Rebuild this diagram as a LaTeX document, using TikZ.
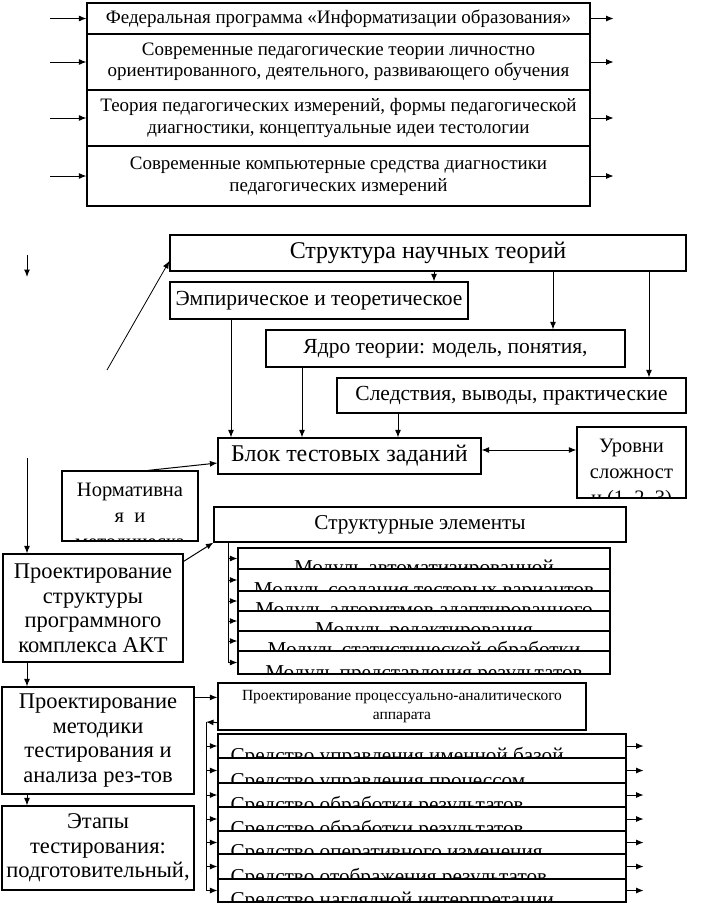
\documentclass[tikz,border=0pt]{standalone}
\usepackage{fontspec}
\setmainfont{Liberation Serif}
\usetikzlibrary{arrows.meta}
\newcommand\ftop{\fontsize{19}{21.5}\selectfont}
\newcommand\fbig{\fontsize{24}{26}\selectfont}
\newcommand\fmid{\fontsize{21.5}{23}\selectfont}
\newcommand\fblok{\fontsize{24}{25}\selectfont}
\newcommand\fcut{\fontsize{20.5}{26}\selectfont}
\newcommand\fmod{\fontsize{21.2}{24}\selectfont}
\newcommand\fside{\fontsize{22.5}{24.5}\selectfont}
\newcommand\fsmall{\fontsize{15.5}{19}\selectfont}
\tikzset{
	box/.style={draw, fill=white, line width=1.2pt, inner sep=2pt, align=center},
	arr/.style={-{Latex[length=7.5pt,width=6pt]}, line width=1pt},
	arrs/.style={{Latex[length=7.5pt,width=6pt]}-{Latex[length=7.5pt,width=6pt]}, line width=1pt},
	topcut/.style={path picture={\node[anchor=north, inner sep=0pt, minimum width=0pt, minimum height=0pt, align=center, font=\fcut] at ([yshift=-11pt]path picture bounding box.north) {#1};}},
	modcut/.style={path picture={\node[anchor=base, inner sep=0pt, minimum width=0pt, minimum height=0pt, font=\fmod] at ([yshift=-5.5pt]path picture bounding box.south) {#1};}},
	sredcut/.style={path picture={\node[anchor=base west, inner sep=0pt, minimum width=0pt, minimum height=0pt, font=\fmod] at ([xshift=12pt,yshift=-4pt]path picture bounding box.south west) {#1};}}
}
\begin{document}
\begin{tikzpicture}[x=1pt,y=-1pt]
		\useasboundingbox (0,0) rectangle (711,906);
		\node [box, font=\ftop, minimum width=503, minimum height=31] (fed) at (338.5,18.5) {Федеральная программа «Информатизации образования»};
		\node [box, font=\ftop, minimum width=503, minimum height=56] (sovr) at (338.5,62) {Современные педагогические теории личностно\\ориентированного, деятельного, развивающего обучения};
		\node [box, font=\ftop, minimum width=503, minimum height=56] (teor) at (338.5,118) {Теория педагогических измерений, формы педагогической\\диагностики, концептуальные идеи тестологии};
		\node [box, font=\ftop, minimum width=503, minimum height=60] (komp) at (338.5,176) {Современные компьютерные средства диагностики\\педагогических измерений};
		\draw [arr] ([xshift=-36pt]fed.west) -- (fed.west);
		\draw [arr] ([xshift=-36pt]sovr.west) -- (sovr.west);
		\draw [arr] ([xshift=-36pt]teor.west) -- (teor.west);
		\draw [arr] ([xshift=-36pt]komp.west) -- (komp.west);
		\draw [arr] (fed.east) -- ([xshift=23pt]fed.east);
		\draw [arr] (sovr.east) -- ([xshift=23pt]sovr.east);
		\draw [arr] (teor.east) -- ([xshift=23pt]teor.east);
		\draw [arr] (komp.east) -- ([xshift=23pt]komp.east);
		% theory structure
		\node [box, font=\fbig, minimum width=516, minimum height=36] (strukt) at (428,253) {Структура научных теорий};
		\node [box, font=\fmid, minimum width=298, minimum height=37] (emp) at (319,300.5) {Эмпирическое и теоретическое};
		\node [box, font=\fmid, minimum width=359, minimum height=37] (yadro) at (445.5,348.5) {Ядро теории: модель, понятия,};
		\node [box, font=\fmid, minimum width=349, minimum height=35] (sled) at (511.5,395.5) {Следствия, выводы, практические};
		\node [box, font=\fblok, minimum width=263, minimum height=36] (blok) at (349.5,456) {Блок тестовых заданий};
		\node [box, minimum width=109, minimum height=71, topcut={Уровни\\сложност\\и (1, 2, 3)}] (urov) at (631.5,462.5) {};
		\node [box, minimum width=136, minimum height=70, topcut={Нормативна\\я \ и\\методическа}] (norm) at (130,506) {};
		\node [box, font=\fmod, minimum width=412, minimum height=35] (selem) at (420,524.5) {Структурные элементы};
		\node [box, minimum width=372, minimum height=21, modcut={Модуль автоматизированной}] (m1) at (424,558.5) {};
		\node [box, minimum width=372, minimum height=22, modcut={Модуль создания тестовых вариантов}] (m2) at (424,580) {};
		\node [box, minimum width=372, minimum height=20, modcut={Модуль алгоритмов адаптированного}] (m3) at (424,601) {};
		\node [box, minimum width=372, minimum height=20, modcut={Модуль редактирования}] (m4) at (424,621) {};
		\node [box, minimum width=372, minimum height=20, modcut={Модуль статистической обработки}] (m5) at (424,641) {};
		\node [box, minimum width=372, minimum height=23, modcut={Модуль представления результатов}] (m6) at (424,662.5) {};
		% left column
		\node [box, font=\fside, minimum width=180, minimum height=108] (ps) at (93,608) {Проектирование\\структуры\\программного\\комплекса АКТ};
		\node [box, font=\fside, minimum width=192, minimum height=107] (pm) at (98,740.5) {Проектирование\\методики\\тестирования и\\анализа рез-тов};
		\node [box, font=\fside, minimum width=192, minimum height=84] (etap) at (98,848) {Этапы\\тестирования:\\подготовительный,};
		\node [box, font=\fsmall, minimum width=368, minimum height=47] (ppa) at (402,706.5) {Проектирование процессуально-аналитического\\аппарата};
		\node [box, minimum width=408, minimum height=24, sredcut={Средство управления именной базой}] (s1) at (422,746) {};
		\node [box, minimum width=408, minimum height=25, sredcut={Средство управления процессом}] (s2) at (422,770.5) {};
		\node [box, minimum width=408, minimum height=24, sredcut={Средство обработки результатов}] (s3) at (422,795) {};
		\node [box, minimum width=408, minimum height=24, sredcut={Средство обработки результатов}] (s4) at (422,819) {};
		\node [box, minimum width=408, minimum height=23, sredcut={Средство оперативного изменения}] (s5) at (422,842.5) {};
		\node [box, minimum width=408, minimum height=25, sredcut={Средство отображения результатов}] (s6) at (422,866.5) {};
		\node [box, minimum width=408, minimum height=23, sredcut={Средство наглядной интерпретации}] (s7) at (422,890.5) {};
		% connectors
		\coordinate (tipa) at (27,255);
		\coordinate (tipb) at (27,277);
		\coordinate (diag) at (107,370);
		\coordinate (lft) at (27,458);
		\coordinate (brka) at (228,542);
		\coordinate (brkb) at (206,722);
		\draw [arr] (tipa) -- (tipb);
		\draw [arr, line width=.8pt] (diag) -- ([yshift=-8pt]strukt.west);
		\draw [arr] ([xshift=6pt]strukt.south) -- ([xshift=6pt]strukt.south |- emp.north);
		\draw [arr] ([xshift=125pt]strukt.south) -- ([xshift=125pt]strukt.south |- yadro.north);
		\draw [arr] ([xshift=221pt]strukt.south) -- ([xshift=221pt]strukt.south |- sled.north);
		\draw [arr] ([xshift=-88pt]emp.south) -- ([xshift=-88pt]emp.south |- blok.north);
		\draw [arr] ([xshift=-143.5pt]yadro.south) -- ([xshift=-143.5pt]yadro.south |- blok.north);
		\draw [arr] ([xshift=-113.5pt]sled.south) -- ([xshift=-113.5pt]sled.south |- blok.north);
		\draw [arrs] ([yshift=6pt]blok.east) -- ([yshift=6pt]blok.east -| urov.west);
		\draw [arr] ([xshift=18pt]norm.north) -- ([yshift=-7pt]blok.west);
		\draw [arr] (lft) -- (lft |- ps.north);
		\draw [arr] ([yshift=-8pt]ps.north east) -- (selem.south west);
		\draw [line width=1pt] (brka) -- (brka |- m6.west);
		\draw [arr] (brka |- m1.west) -- (m1.west);
		\draw [arr] (brka |- m2.west) -- (m2.west);
		\draw [arr] (brka |- m3.west) -- (m3.west);
		\draw [arr] (brka |- m4.west) -- (m4.west);
		\draw [arr] (brka |- m5.west) -- (m5.west);
		\draw [arr] (brka |- m6.west) -- (m6.west);
		\draw [arr] (lft |- ps.south) -- (lft |- pm.north);
		\draw [arr] (lft |- pm.south) -- (lft |- etap.north);
		\draw [arr] ([yshift=-11pt]pm.north east) -- ([yshift=-11pt]pm.north east -| ppa.west);
		\draw [arr] ([yshift=8pt]ppa.south west) -- (brkb);
		\draw [line width=1pt] (brkb) -- (brkb |- s7.west);
		\draw [arr] (brkb |- s1.west) -- (s1.west);
		\draw [arr] (brkb |- s2.west) -- (s2.west);
		\draw [arr] (brkb |- s3.west) -- (s3.west);
		\draw [arr] (brkb |- s4.west) -- (s4.west);
		\draw [arr] (brkb |- s5.west) -- (s5.west);
		\draw [arr] (brkb |- s6.west) -- (s6.west);
		\draw [arr] (brkb |- s7.west) -- (s7.west);
		\draw [arr] (s1.east) -- ([xshift=17pt]s1.east);
		\draw [arr] (s2.east) -- ([xshift=17pt]s2.east);
		\draw [arr] (s3.east) -- ([xshift=17pt]s3.east);
		\draw [arr] (s4.east) -- ([xshift=17pt]s4.east);
		\draw [arr] (s5.east) -- ([xshift=17pt]s5.east);
		\draw [arr] (s6.east) -- ([xshift=17pt]s6.east);
		\draw [arr] (s7.east) -- ([xshift=17pt]s7.east);
	\end{tikzpicture}
\end{document}
